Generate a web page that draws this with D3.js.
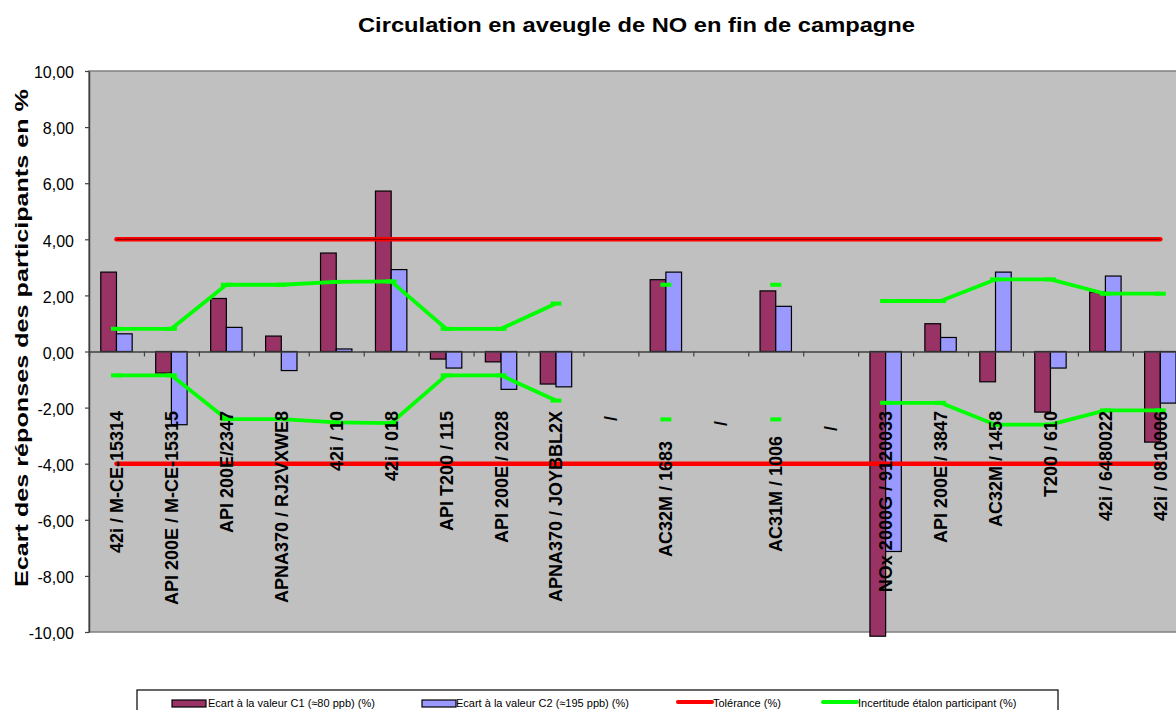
<!DOCTYPE html>
<html>
<head>
<meta charset="utf-8">
<script src="https://cdn.jsdelivr.net/npm/d3@7"></script>
<style>
  html, body { margin: 0; padding: 0; background: #ffffff; }
  svg { display: block; font-family: "Liberation Sans", Arial, sans-serif; }
</style>
</head>
<body>
<svg id="chart" width="1176" height="710"></svg>
<script>
// ---------- DATA ----------
const categories = [
  "42i / M-CE-15314", "API 200E / M-CE-15315", "API 200E/2347", "APNA370 / RJ2VXWE8",
  "42i / 10", "42i / 018", "API T200 / 115", "API 200E / 2028", "APNA370 / JOYBBL2X",
  "/ ", "AC32M / 1683      ", "/  ", "AC31M / 1006     ", "/   ",
  "NOx 2000G / 9120033", "API 200E / 3847", "AC32M / 1458", "T200 / 610",
  "42i / 6480022", "42i / 0810006"
];
const seriesNames = [
  "Ecart à la valeur C1 (≈80 ppb) (%)",
  "Ecart à la valeur C2 (≈195 ppb) (%)",
  "Tolérance (%)",
  "Incertitude étalon participant (%)"
];
const ecartC1 = [2.83, -0.77, 1.89, 0.55, 3.51, 5.72, -0.27, -0.37, -1.16, null,
                 2.56, null, 2.16, null, -10.15, 0.99, -1.08, -2.16, 2.12, -3.23];
const ecartC2 = [0.63, -2.61, 0.86, -0.68, 0.09, 2.92, -0.59, -1.35, -1.26, null,
                 2.83, null, 1.61, null, -7.13, 0.50, 2.83, -0.59, 2.69, -1.84];
const toleranceUp  = [4, 4, 4, 4, 4, 4, 4, 4, 4, 4, 4, 4, 4, 4, 4, 4, 4, 4, 4, 4];
const toleranceLow = [-4, -4, -4, -4, -4, -4, -4, -4, -4, -4, -4, -4, -4, -4, -4, -4, -4, -4, -4, -4];
const incertUp  = [0.81, 0.81, 2.38, 2.38, 2.48, 2.50, 0.81, 0.81, 1.71, null,
                   2.38, null, 2.38, null, 1.80, 1.80, 2.57, 2.57, 2.06, 2.06];
const incertLow = [-0.85, -0.85, -2.41, -2.41, -2.53, -2.55, -0.85, -0.85, -1.75, null,
                   -2.42, null, -2.42, null, -1.83, -1.83, -2.61, -2.61, -2.10, -2.10];
const yTicks = [-10, -8, -6, -4, -2, 0, 2, 4, 6, 8, 10];
const titleText = "Circulation en aveugle de NO en fin de campagne";
const yTitleText = "Ecart des réponses des participants en %";

// ---------- LAYOUT ----------
const svg = d3.select("#chart");
const plot = { left: 89, top: 71, bottom: 632, catW: 54.94 };
plot.right = plot.left + plot.catW * categories.length;

const x = d3.scaleBand().domain(d3.range(categories.length))
  .range([plot.left, plot.right]).padding(0);
const xs = d3.scaleBand().domain([0, 1]).range([0, x.bandwidth()])
  .paddingInner(0).paddingOuter(0.75);
const y = d3.scaleLinear().domain([-10, 10]).range([plot.bottom, plot.top]);
const cx = i => x(i) + x.bandwidth() / 2;

const locale = d3.formatLocale({ decimal: ",", thousands: " ", grouping: [3], currency: ["", "€"], minus: "-" });
const fmt = locale.format(".2f");

// Title
svg.append("text")
  .attr("x", 636.5).attr("y", 32)
  .attr("text-anchor", "middle")
  .attr("font-size", 21).attr("font-weight", "bold")
  .attr("textLength", 557).attr("lengthAdjust", "spacingAndGlyphs")
  .text(titleText);

// Plot area
svg.append("rect")
  .attr("x", plot.left).attr("y", plot.top)
  .attr("width", plot.right - plot.left).attr("height", plot.bottom - plot.top)
  .attr("fill", "#c0c0c0").attr("stroke", "#808080").attr("stroke-width", 1.5);

// Bars
const barData = [];
categories.forEach((c, i) => {
  [ecartC1[i], ecartC2[i]].forEach((v, s) => {
    if (v !== null) barData.push({ i, s, v });
  });
});
const barColors = ["#993366", "#9999ff"];
svg.append("g").selectAll("rect").data(barData).join("rect")
  .attr("x", d => x(d.i) + xs(d.s))
  .attr("width", xs.bandwidth())
  .attr("y", d => Math.min(y(d.v), y(0)))
  .attr("height", d => Math.abs(y(d.v) - y(0)))
  .attr("fill", d => barColors[d.s])
  .attr("stroke", "#000").attr("stroke-width", 1.2);

// X axis (zero line) with tick marks at category boundaries
const xAxis = d3.axisBottom(d3.scaleLinear().domain([0, categories.length]).range([plot.left, plot.right]))
  .tickValues(d3.range(1, categories.length + 1))
  .tickSize(5).tickFormat("");
const gx = svg.append("g").attr("transform", `translate(0,${y(0)})`).call(xAxis);
gx.select(".domain").attr("stroke", "#404040").attr("stroke-width", 1.5);
gx.selectAll(".tick line").attr("stroke", "#404040").attr("stroke-width", 1.2);

// Y axis
const yAxis = d3.axisLeft(y).tickValues(yTicks).tickSize(4).tickFormat(fmt).tickSizeOuter(0);
const gy = svg.append("g").attr("transform", `translate(${plot.left},0)`).call(yAxis);
gy.select(".domain").attr("stroke", "#404040").attr("stroke-width", 1.5);
gy.selectAll(".tick line").attr("stroke", "#404040").attr("stroke-width", 1.2);
gy.selectAll(".tick text")
  .attr("x", -15).attr("dy", "0.42em")
  .attr("font-size", 16).attr("fill", "#000")
  .attr("font-family", "'Liberation Sans', Arial, sans-serif");

// Lines
const lineGen = d3.line()
  .defined(d => d.v !== null)
  .x(d => cx(d.i)).y(d => y(d.v));
const toPts = arr => arr.map((v, i) => ({ i, v }));

// Tolerance
[toleranceUp, toleranceLow].forEach((arr, k) => {
  svg.append("path").datum(toPts(arr))
    .attr("d", lineGen).attr("fill", "none")
    .attr("stroke", "#ff0000").attr("stroke-width", 4.5).attr("stroke-linecap", "round");
  if (k === 0) {
    svg.append("path").datum(toPts(arr))
      .attr("d", lineGen).attr("fill", "none")
      .attr("stroke", "#7a0000").attr("stroke-width", 1);
  }
});

// Incertitude (green) with dash markers
[incertUp, incertLow].forEach(arr => {
  const pts = toPts(arr);
  svg.append("path").datum(pts)
    .attr("d", lineGen).attr("fill", "none")
    .attr("stroke", "#00ff00").attr("stroke-width", 3.8).attr("stroke-linejoin", "round");
  svg.append("g").selectAll("rect").data(pts.filter(d => d.v !== null)).join("rect")
    .attr("x", d => cx(d.i) - 5.5).attr("y", d => y(d.v) - 2)
    .attr("width", 11).attr("height", 4)
    .attr("fill", "#00ff00");
});

// Category labels (rotated, on top)
svg.append("g").selectAll("text").data(categories).join("text")
  .attr("transform", (d, i) => `translate(${cx(i)},411) rotate(-90)`)
  .attr("text-anchor", "end")
  .attr("dy", "0.36em")
  .attr("font-size", 18).attr("font-weight", "bold")
  .style("white-space", "pre")
  .text(d => d);

// Y axis title
svg.append("text")
  .attr("transform", "translate(28,338) rotate(-90)")
  .attr("text-anchor", "middle")
  .attr("font-size", 19).attr("font-weight", "bold")
  .attr("textLength", 498).attr("lengthAdjust", "spacingAndGlyphs")
  .text(yTitleText);

// Legend
const lg = svg.append("g");
lg.append("rect").attr("x", 137).attr("y", 690).attr("width", 921).attr("height", 40)
  .attr("fill", "#ffffff").attr("stroke", "#000").attr("stroke-width", 1.2);
const legendItems = [
  { name: seriesNames[0], type: "bar", color: barColors[0], sx: 172, tx: 208 },
  { name: seriesNames[1], type: "bar", color: barColors[1], sx: 422, tx: 456 },
  { name: seriesNames[2], type: "line", color: "#ff0000", sx: 678, tx: 713 },
  { name: seriesNames[3], type: "line", color: "#00ff00", sx: 823, tx: 858 }
];
legendItems.forEach(it => {
  if (it.type === "bar") {
    lg.append("rect").attr("x", it.sx).attr("y", 700).attr("width", 34).attr("height", 7)
      .attr("fill", it.color).attr("stroke", "#000").attr("stroke-width", 1.2);
  } else {
    lg.append("line").attr("x1", it.sx).attr("x2", it.sx + 34).attr("y1", 702).attr("y2", 702)
      .attr("stroke", it.color).attr("stroke-width", 4).attr("stroke-linecap", "round");
  }
  lg.append("text").attr("x", it.tx).attr("y", 706.5)
    .attr("font-size", 11).text(it.name);
});
</script>
</body>
</html>
